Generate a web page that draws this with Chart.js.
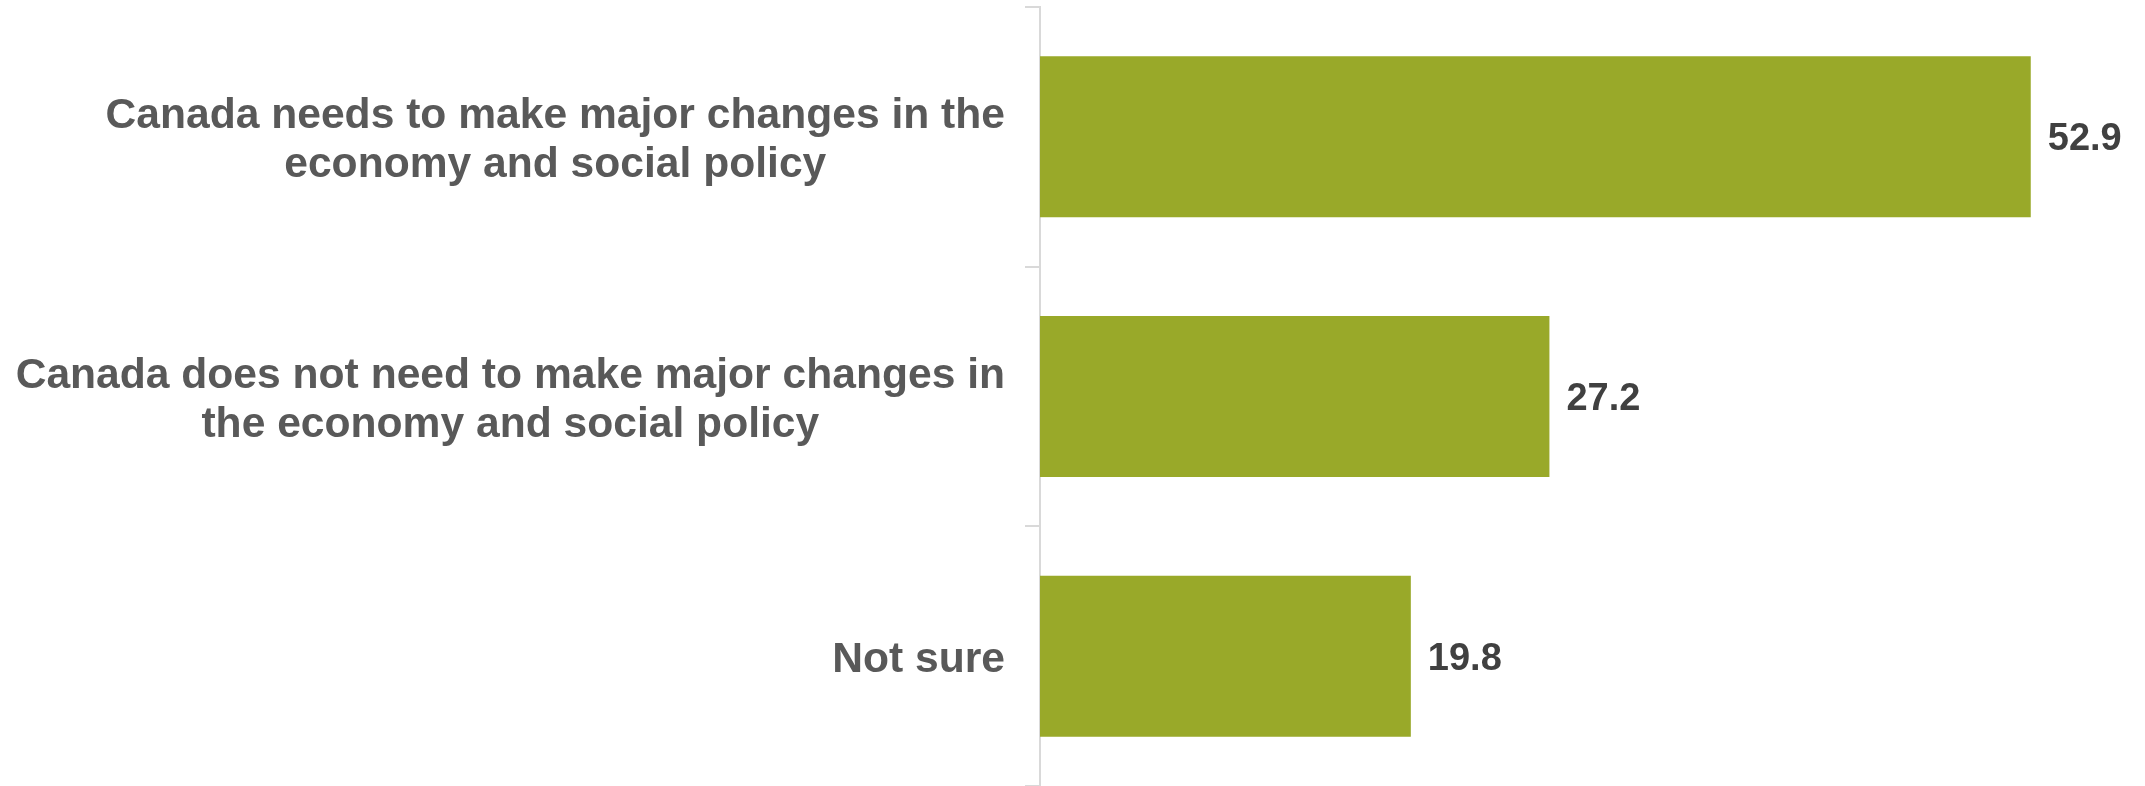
<!DOCTYPE html>
<html>
<head>
<meta charset="utf-8">
<script src="https://cdn.jsdelivr.net/npm/chart.js@4/dist/chart.umd.min.js"></script>
<style>
  html, body { margin: 0; padding: 0; background: #ffffff; }
  #wrap { width: 2145px; height: 786px; }
</style>
</head>
<body>
<div id="wrap"><canvas id="chart" width="2145" height="786"></canvas></div>
<script>
// survey answers
const categories = [
  ['Canada needs to make major changes in the', 'economy and social policy'],
  ['Canada does not need to make major changes in', 'the economy and social policy'],
  ['Not sure']
];
const values = [52.9, 27.2, 19.8];

const barColor = '#99a929';
const fontFamily = "'Liberation Sans', Arial, sans-serif";
const valueFont = 'bold 38px ' + fontFamily;
const catFont = 'bold 42.6px ' + fontFamily;
const catLineHeight = 49;

// category labels: block right-aligned against the axis, lines centred within the block
// (the way office charts wrap them; Chart.js ticks centre every line on one x)
const categoryLabels = {
  id: 'categoryLabels',
  afterDraw(chart) {
    const ctx = chart.ctx;
    const yScale = chart.scales.y;
    const right = chart.chartArea.left - 35;
    ctx.save();
    ctx.font = catFont;
    ctx.fillStyle = '#595959';
    ctx.textAlign = 'center';
    ctx.textBaseline = 'middle';
    categories.forEach((lines, i) => {
      const blockW = Math.max(...lines.map(l => ctx.measureText(l).width));
      const cx = right - blockW / 2;
      const cy = yScale.getPixelForTick(i) + 4;
      const top = cy - (lines.length - 1) * catLineHeight / 2;
      lines.forEach((line, j) => ctx.fillText(line, cx, top + j * catLineHeight));
    });
    ctx.restore();
  }
};

// writes the number just past the end of each bar
const valueLabels = {
  id: 'valueLabels',
  afterDatasetsDraw(chart) {
    const ctx = chart.ctx;
    const meta = chart.getDatasetMeta(0);
    ctx.save();
    ctx.font = valueFont;
    ctx.fillStyle = '#404040';
    ctx.textAlign = 'left';
    ctx.textBaseline = 'middle';
    meta.data.forEach((bar, i) => {
      ctx.fillText(values[i].toFixed(1), bar.x + 17, bar.y + 3);
    });
    ctx.restore();
  }
};

new Chart(document.getElementById('chart'), {
  type: 'bar',
  data: {
    labels: categories,
    datasets: [{
      data: values,
      backgroundColor: barColor,
      borderWidth: 0,
      categoryPercentage: 0.62,
      barPercentage: 1.0
    }]
  },
  options: {
    indexAxis: 'y',
    responsive: false,
    animation: false,
    layout: { padding: { top: 7, right: 0, bottom: 0, left: 0 } },
    plugins: {
      legend: { display: false },
      tooltip: { enabled: false }
    },
    scales: {
      x: {
        display: false,
        min: 0,
        max: 59
      },
      y: {
        afterFit(scale) {
          // keep plot starting where the reference does, and let it run full height
          scale.width = 1040;
          scale.paddingTop = 0;
          scale.paddingBottom = 0;
        },
        border: { display: true, color: '#d9d9d9', width: 2 },
        grid: {
          drawOnChartArea: false,
          drawTicks: true,
          tickLength: 15,
          color: '#d9d9d9',
          lineWidth: 2
        },
        ticks: { display: false }
      }
    }
  },
  plugins: [valueLabels, categoryLabels]
});
</script>
</body>
</html>
